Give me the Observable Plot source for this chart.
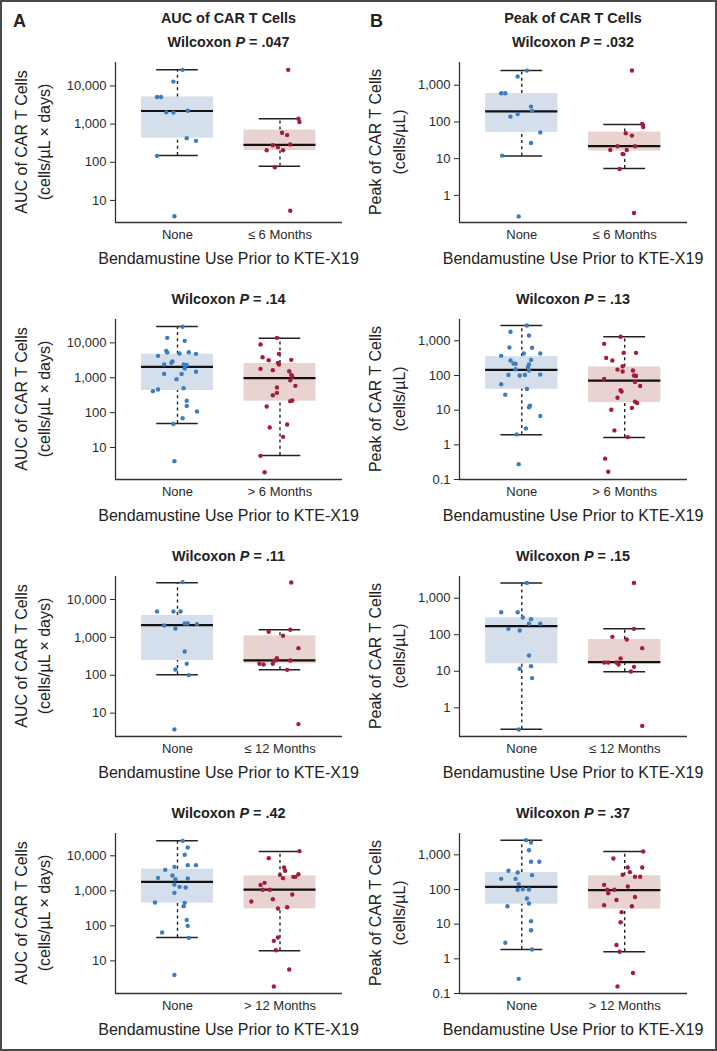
<!DOCTYPE html>
<html><head><meta charset="utf-8">
<script src="https://cdn.jsdelivr.net/npm/d3@7"></script>
<script src="https://cdn.jsdelivr.net/npm/@observablehq/plot@0.6"></script>
<style>
body{margin:0;background:#fff;}
#fig{position:relative;width:717px;height:1051px;overflow:hidden;font-family:"Liberation Sans",Arial,sans-serif;color:#222;background:#fff;}
.frame{position:absolute;left:0;top:0;width:717px;height:1051px;box-sizing:border-box;border:2px solid #4a4a4a;pointer-events:none;}
.t{position:absolute;white-space:nowrap;line-height:1;}
</style></head><body><div id="fig"><div class="frame"></div></div>
<script>
// ---------- text ----------
const panelLetters = ["A", "B"];
const columnTitles = ["AUC of CAR T Cells", "Peak of CAR T Cells"];
const yLabelLine1 = ["AUC of CAR T Cells", "Peak of CAR T Cells"];
const yLabelLine2 = ["(cells/µL × days)", "(cells/µL)"];
const xAxisTitle = "Bendamustine Use Prior to KTE-X19";
const rowGroups = [["None", "≤ 6 Months"], ["None", "> 6 Months"], ["None", "≤ 12 Months"], ["None", "> 12 Months"]];
const pValuesAUC = [".047", ".14", ".11", ".42"];
const pValuesPeak = [".032", ".13", ".15", ".37"];

// ---------- y tick values ----------
const aucTicks = [10, 100, 1000, 10000];
const peakTicksShort = [1, 10, 100, 1000];
const peakTicksLong = [0.1, 1, 10, 100, 1000];

const aucDomains = [[2.64, 41100], [1.21, 46700], [2.42, 40400], [1.17, 43400]];
const peakDomains = [[0.182, 4170], [0.1, 4120], [0.164, 3920], [0.1, 4120]];

// ---------- Row 1: ≤ 6 months ----------
const auc6None = [26400, 13000, 5150, 5150, 2030, 2000, 2240, 428, 364, 147, 3.86];
const auc6NoneJit = [0.05, -0.04, -0.20, -0.16, -0.11, -0.04, 0.10, 0.09, 0.18, -0.20, -0.03];
const auc6NoneBox = [150, 428, 2200, 5150, 26400];
const auc6Prior = [26400, 1380, 1130, 592, 514, 280, 248, 292, 207, 207, 74, 5.36];
const auc6PriorJit = [0.08, 0.18, 0.19, 0.02, 0.07, -0.07, -0.02, 0.10, -0.13, 0.03, -0.05, 0.10];
const auc6PriorBox = [78.5, 203, 286, 695, 1380];

const peak6None = [2510, 1730, 605, 605, 262, 200, 165, 140, 52, 26.7, 12.1, 0.267];
const peak6NoneJit = [0.05, -0.04, -0.20, -0.16, 0.09, 0.10, -0.04, -0.11, 0.18, 0.09, -0.19, -0.03];
const peak6NoneBox = [11.8, 52, 195, 594, 2520];
const peak6Prior = [2520, 88, 73, 49, 42.5, 21.7, 21.7, 17.2, 17.2, 13.4, 5.2, 0.33];
const peak6PriorJit = [0.07, 0.17, 0.18, 0.01, 0.07, -0.07, 0.10, -0.14, 0.02, -0.02, -0.05, 0.09];
const peak6PriorBox = [5.35, 16.1, 22, 53, 85];

// ---------- Row 2: > 6 months ----------
const aucGt6None = [28800, 13900, 11400, 5900, 5290, 4240, 4940, 5400, 4840, 2670, 2920, 2390, 2390, 2290, 2340, 1840, 1290, 1290, 1480, 910, 412, 460, 500, 218, 156, 108, 69, 47, 4.06];
const aucGt6NoneJit = [0.05, -0.10, 0.07, -0.11, -0.10, -0.19, 0.02, 0.11, 0.18, -0.06, -0.05, -0.13, 0.06, 0.08, 0.09, 0.07, -0.13, 0.04, 0.18, -0.01, -0.24, -0.19, 0.06, 0.09, 0.09, 0.19, 0.05, -0.04, -0.03];
const aucGt6NoneBox = [48.7, 430, 2050, 4730, 29400];
const aucGt6Prior = [13900, 8960, 4840, 3880, 3180, 3260, 2670, 2390, 1800, 1650, 1540, 1210, 1080, 850, 586, 525, 369, 316, 222, 213, 150, 37.4, 45.6, 20.2, 5.77, 1.96];
const aucGt6PriorJit = [-0.03, -0.19, -0.01, -0.17, -0.11, 0.11, -0.02, -0.01, -0.19, -0.07, 0.09, 0.11, 0.12, 0.10, 0.15, -0.03, -0.03, -0.07, 0.12, 0.10, -0.13, -0.10, 0.07, 0.03, -0.19, -0.15];
const aucGt6PriorBox = [5.9, 213, 970, 2560, 13600];

const peakGt6None = [2770, 1820, 1430, 641, 628, 431, 431, 368, 270, 221, 216, 282, 207, 177, 139, 152, 104, 99.5, 104, 106, 55.8, 40.9, 28, 13.5, 12.1, 6.8, 2.98, 2.0, 0.277];
const peakGt6NoneJit = [0.05, -0.11, 0.07, -0.12, 0.10, 0.02, 0.18, -0.20, -0.11, -0.08, -0.06, 0.09, 0.07, 0.06, 0.07, -0.06, -0.13, -0.02, 0.03, 0.18, -0.20, 0.05, -0.16, 0.08, 0.07, 0.18, 0.04, -0.05, -0.03];
const peakGt6NoneBox = [1.96, 40, 145, 352, 2770];
const peakGt6Prior = [1305, 819, 450, 450, 322, 270, 185, 148, 130, 139, 99.5, 97, 79.6, 65, 50, 37.4, 34.3, 22.9, 17.6, 16.1, 10.3, 11.6, 2.61, 1.67, 0.40, 0.167];
const peakGt6PriorJit = [-0.04, -0.20, -0.01, 0.11, -0.18, -0.12, -0.02, -0.07, -0.02, 0.08, 0.09, 0.11, -0.20, 0.10, 0.15, -0.04, -0.03, -0.07, 0.10, 0.12, -0.13, 0.07, -0.10, 0.03, -0.19, -0.16];
const peakGt6PriorBox = [1.64, 16.5, 71, 177, 1305];

// ---------- Row 3: ≤ 12 months ----------
const auc12None = [28700, 4820, 4820, 4820, 2060, 2330, 2330, 2230, 1720, 425, 201, 142, 101, 3.72];
const auc12NoneJit = [0.05, -0.20, -0.04, 0.03, -0.13, 0.07, 0.10, 0.19, -0.02, 0.07, 0.09, -0.02, 0.11, -0.03];
const auc12NoneBox = [103, 245, 2100, 3790, 27600];
const auc12Prior = [28100, 1400, 1590, 1100, 520, 283, 246, 246, 201, 193, 201, 139, 5.14];
const auc12PriorJit = [0.11, -0.11, 0.10, 0.03, 0.18, -0.03, -0.05, 0.10, -0.20, -0.16, -0.07, 0.07, 0.18];
const auc12PriorBox = [139, 201, 246, 1100, 1590];

const peak12None = [2620, 414, 414, 296, 267, 199, 199, 145, 131, 27, 11.7, 13.8, 6.5, 0.255];
const peak12NoneJit = [0.05, -0.20, -0.04, 0.01, 0.09, 0.07, 0.18, -0.13, -0.02, 0.07, -0.02, 0.09, 0.10, -0.03];
const peak12NoneBox = [0.26, 16, 171, 290, 2620];
const peak12Prior = [2620, 145, 87.5, 74, 42.9, 22.4, 17.4, 17.4, 17.4, 15.3, 13.2, 9.9, 0.32];
const peak12PriorJit = [0.09, 0.09, -0.12, 0.02, 0.17, -0.04, -0.20, -0.16, -0.08, -0.06, 0.09, 0.06, 0.17];
const peak12PriorBox = [9.7, 16, 17.7, 74, 145];

// ---------- Row 4: > 12 months ----------
const aucGt12None = [26800, 17300, 10700, 4850, 5410, 5410, 3980, 2350, 2740, 2150, 2250, 1520, 1300, 1245, 877, 464, 454, 365, 148, 100, 64.5, 45.4, 3.98];
const aucGt12NoneJit = [0.05, 0.10, 0.07, -0.03, 0.10, 0.18, -0.12, -0.19, -0.05, -0.02, 0.10, -0.03, 0.02, 0.08, -0.03, -0.22, 0.07, 0.06, 0.09, 0.10, -0.15, 0.11, -0.03];
const aucGt12NoneBox = [46.4, 445, 1810, 4160, 26800];
const aucGt12Prior = [13600, 8580, 4640, 3730, 2860, 2990, 2510, 2510, 2300, 1690, 1480, 1070, 1070, 785, 495, 578, 341, 313, 46.4, 37.3, 20.2, 5.65, 1.85];
const aucGt12PriorJit = [0.19, -0.11, 0.04, 0.05, 0.00, 0.18, 0.13, 0.15, 0.03, -0.15, -0.19, -0.17, -0.10, 0.12, -0.28, -0.07, 0.07, -0.02, -0.02, -0.06, -0.04, 0.09, -0.06];
const aucGt12PriorBox = [19.3, 306, 1090, 2680, 13300];

const peakGt12None = [2650, 2270, 1360, 629, 629, 346, 309, 259, 203, 203, 143, 98, 102, 100, 55, 39.4, 33, 12.2, 6.7, 2.9, 1.86, 0.265];
const peakGt12NoneJit = [0.04, 0.09, 0.07, 0.09, 0.17, -0.13, -0.04, 0.10, -0.20, -0.06, -0.03, -0.04, 0.01, 0.07, 0.05, 0.07, -0.14, 0.09, 0.09, -0.16, 0.10, -0.03];
const peakGt12NoneBox = [1.86, 37.8, 119, 309, 2650];
const peakGt12Prior = [1250, 783, 431, 431, 316, 265, 232, 232, 136, 122, 98, 98, 78, 61, 50, 35.3, 33, 22.2, 11.4, 2.5, 1.6, 0.39, 0.16];
const peakGt12PriorJit = [0.18, -0.11, 0.03, 0.17, 0.05, -0.02, 0.10, 0.15, -0.20, 0.03, -0.17, -0.10, -0.16, 0.10, -0.08, -0.20, 0.07, -0.03, -0.04, -0.08, -0.05, 0.08, -0.07];
const peakGt12PriorBox = [1.6, 27.1, 96, 248, 1250];

// ---------- styling ----------
const dotColors = ["#3b7dbf", "#a41d38"];
const boxFills = ["#d5deeb", "#e8d3d1"];
const ink = "#222";
const rowTops = [62, 319, 576, 833];
const plotH = 160;

const fig = document.getElementById("fig");
const fmt = d3.format(",");

function addText(html, {x, y, size, bold = false, italic = false, anchor = "middle", rotate = false}) {
  const el = document.createElement("div");
  el.className = "t";
  el.innerHTML = html;
  el.style.fontSize = size + "px";
  el.style.fontWeight = bold ? "bold" : "normal";
  if (italic) el.style.fontStyle = "italic";
  if (rotate) {
    el.style.left = x + "px";
    el.style.top = y + "px";
    el.style.transform = "translate(-50%,-50%) rotate(-90deg)";
  } else {
    el.style.left = x + "px";
    el.style.top = (y - 0.8465 * size) + "px";
    if (anchor === "middle") el.style.transform = "translateX(-50%)";
  }
  fig.appendChild(el);
}

function panel(col, row, domain, ticks, noneVals, noneJit, noneBox, priorVals, priorJit, priorBox) {
  const cats = rowGroups[row];
  const pts = [
    ...noneVals.map((v, i) => ({g: 1, v, j: noneJit[i]})),
    ...priorVals.map((v, i) => ({g: 2, v, j: priorJit[i]}))
  ];
  const boxes = [{g: 1, s: noneBox}, {g: 2, s: priorBox}];
  const W = col ? 360 : 357;
  const ml = col ? 102 : 115;
  const mr = col ? 30 : 15;
  const bw = 0.351, cw = 0.203;
  const whisk = {stroke: ink, strokeWidth: 1.4, strokeDasharray: "3,3.2"};
  const svg = Plot.plot({
    width: W, height: 8 + plotH + 30,
    marginTop: 8, marginBottom: 30, marginLeft: ml, marginRight: mr,
    style: {fontFamily: "'Liberation Sans', Arial, sans-serif", fontSize: "13px", color: "#2a2a2a", background: "transparent", overflow: "visible"},
    x: {domain: [0.395, 2.61], axis: null},
    y: {type: "log", domain, axis: null},
    color: {type: "identity"},
    marks: [
      Plot.rect(boxes, {x1: d => d.g - bw, x2: d => d.g + bw, y1: d => d.s[1], y2: d => d.s[3], fill: d => boxFills[d.g - 1]}),
      Plot.ruleX(boxes, {x: "g", y1: d => d.s[3], y2: d => d.s[4], ...whisk}),
      Plot.ruleX(boxes, {x: "g", y1: d => d.s[0], y2: d => d.s[1], ...whisk}),
      Plot.ruleY(boxes, {y: d => d.s[4], x1: d => d.g - cw, x2: d => d.g + cw, stroke: ink, strokeWidth: 1.5}),
      Plot.ruleY(boxes, {y: d => d.s[0], x1: d => d.g - cw, x2: d => d.g + cw, stroke: ink, strokeWidth: 1.5}),
      Plot.ruleY(boxes, {y: d => d.s[2], x1: d => d.g - bw, x2: d => d.g + bw, stroke: "#111", strokeWidth: 2.2}),
      Plot.dot(pts, {x: d => d.g + d.j, y: "v", r: 2.2, fill: d => dotColors[d.g - 1], stroke: null}),
      Plot.axisY({ticks, tickFormat: d => fmt(d), tickSize: 5, tickPadding: 4, label: null}),
      Plot.axisX({ticks: [1, 2], tickFormat: d => cats[d - 1], tickSize: 0, tickPadding: 7, label: null}),
      Plot.ruleX([0.395], {stroke: "#333", strokeWidth: 1.3}),
      Plot.ruleY([domain[0]], {stroke: "#333", strokeWidth: 1.3})
    ]
  });
  svg.style.position = "absolute";
  svg.style.left = (col ? 357 : 0) + "px";
  svg.style.top = (rowTops[row] - 8) + "px";
  fig.appendChild(svg);

  const cx = col ? 573 : 228.5;
  const top = rowTops[row];
  const p = col ? pValuesPeak[row] : pValuesAUC[row];
  addText(`Wilcoxon <i>P</i> = ${p}`, {x: cx, y: top - 15, size: 14.4, bold: true});
  addText(xAxisTitle, {x: cx, y: top + plotH + 43, size: 16});
  addText(yLabelLine1[col], {x: col ? 375.5 : 22, y: top + plotH / 2, size: 16, rotate: true});
  addText(yLabelLine2[col], {x: col ? 400 : 45, y: top + plotH / 2, size: 16, rotate: true});
}

// headers
addText(panelLetters[0], {x: 13, y: 27, size: 18, bold: true, anchor: "start"});
addText(panelLetters[1], {x: 370, y: 27, size: 18, bold: true, anchor: "start"});
addText(columnTitles[0], {x: 228.5, y: 23, size: 14.4, bold: true});
addText(columnTitles[1], {x: 573, y: 23, size: 14.4, bold: true});

panel(0, 0, aucDomains[0], aucTicks, auc6None, auc6NoneJit, auc6NoneBox, auc6Prior, auc6PriorJit, auc6PriorBox);
panel(1, 0, peakDomains[0], peakTicksShort, peak6None, peak6NoneJit, peak6NoneBox, peak6Prior, peak6PriorJit, peak6PriorBox);
panel(0, 1, aucDomains[1], aucTicks, aucGt6None, aucGt6NoneJit, aucGt6NoneBox, aucGt6Prior, aucGt6PriorJit, aucGt6PriorBox);
panel(1, 1, peakDomains[1], peakTicksLong, peakGt6None, peakGt6NoneJit, peakGt6NoneBox, peakGt6Prior, peakGt6PriorJit, peakGt6PriorBox);
panel(0, 2, aucDomains[2], aucTicks, auc12None, auc12NoneJit, auc12NoneBox, auc12Prior, auc12PriorJit, auc12PriorBox);
panel(1, 2, peakDomains[2], peakTicksShort, peak12None, peak12NoneJit, peak12NoneBox, peak12Prior, peak12PriorJit, peak12PriorBox);
panel(0, 3, aucDomains[3], aucTicks, aucGt12None, aucGt12NoneJit, aucGt12NoneBox, aucGt12Prior, aucGt12PriorJit, aucGt12PriorBox);
panel(1, 3, peakDomains[3], peakTicksLong, peakGt12None, peakGt12NoneJit, peakGt12NoneBox, peakGt12Prior, peakGt12PriorJit, peakGt12PriorBox);
</script></body></html>
